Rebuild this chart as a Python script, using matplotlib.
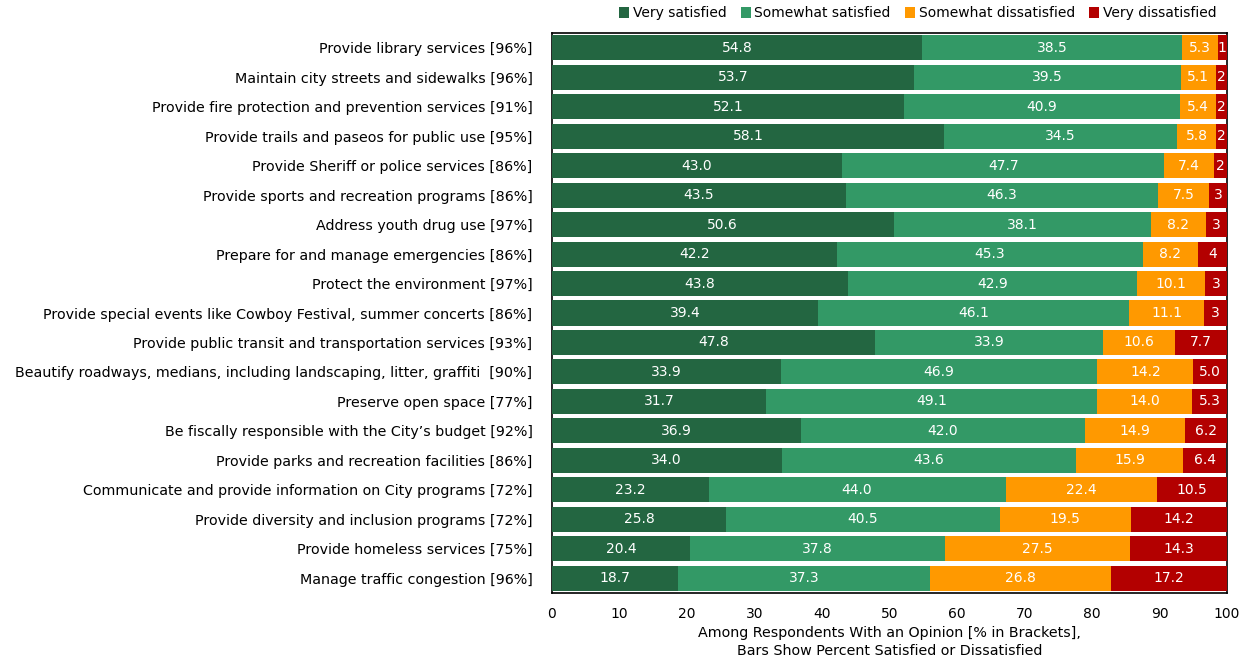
import numpy as np
import matplotlib
matplotlib.use("Agg")
import matplotlib.pyplot as plt

categories = [
    "Provide library services [96%]",
    "Maintain city streets and sidewalks [96%]",
    "Provide fire protection and prevention services [91%]",
    "Provide trails and paseos for public use [95%]",
    "Provide Sheriff or police services [86%]",
    "Provide sports and recreation programs [86%]",
    "Address youth drug use [97%]",
    "Prepare for and manage emergencies [86%]",
    "Protect the environment [97%]",
    "Provide special events like Cowboy Festival, summer concerts [86%]",
    "Provide public transit and transportation services [93%]",
    "Beautify roadways, medians, including landscaping, litter, graffiti  [90%]",
    "Preserve open space [77%]",
    "Be fiscally responsible with the City\u2019s budget [92%]",
    "Provide parks and recreation facilities [86%]",
    "Communicate and provide information on City programs [72%]",
    "Provide diversity and inclusion programs [72%]",
    "Provide homeless services [75%]",
    "Manage traffic congestion [96%]",
]

very_sat = [54.8, 53.7, 52.1, 58.1, 43.0, 43.5, 50.6, 42.2, 43.8, 39.4,
            47.8, 33.9, 31.7, 36.9, 34.0, 23.2, 25.8, 20.4, 18.7]
somewhat_sat = [38.5, 39.5, 40.9, 34.5, 47.7, 46.3, 38.1, 45.3, 42.9, 46.1,
                33.9, 46.9, 49.1, 42.0, 43.6, 44.0, 40.5, 37.8, 37.3]
somewhat_dis = [5.3, 5.1, 5.4, 5.8, 7.4, 7.5, 8.2, 8.2, 10.1, 11.1,
                10.6, 14.2, 14.0, 14.9, 15.9, 22.4, 19.5, 27.5, 26.8]
very_dis = [1.4, 1.7, 1.6, 1.6, 1.9, 2.7, 3.1, 4.3, 3.2, 3.4,
            7.7, 5.0, 5.3, 6.2, 6.4, 10.5, 14.2, 14.3, 17.2]

series_names = ["Very satisfied", "Somewhat satisfied",
                "Somewhat dissatisfied", "Very dissatisfied"]
colors = ["#236641", "#339966", "#FF9900", "#B30000"]
xticks = [0, 10, 20, 30, 40, 50, 60, 70, 80, 90, 100]

plt.rcParams["font.family"] = ["DejaVu Sans"]

fig = plt.figure(figsize=(12.45, 6.64), dpi=100)
ax = fig.add_axes([552 / 1245, 1 - 593 / 664, 675 / 1245, 560 / 664])

y = np.arange(len(categories))
left = np.zeros(len(categories))
handles = []
for name, vals, col in zip(series_names,
                           [very_sat, somewhat_sat, somewhat_dis, very_dis],
                           colors):
    vals = np.array(vals)
    # bars sit above the frame so the spines only show in the gaps
    bars = ax.barh(y, vals, left=left, height=0.85, color=col, label=name,
                   edgecolor="none", zorder=3)
    handles.append(bars)
    for yi, l, v in zip(y, left, vals):
        txt = f"{v:.0f}" if v < 5 else f"{v:.1f}"
        ax.text(l + v / 2, yi, txt, ha="center", va="center",
                color="white", fontsize=10, zorder=4)
    left = left + vals

ax.set_xlim(0, 100)
ax.set_ylim(len(categories) - 0.5, -0.5)
ax.set_yticks(y)
ax.set_yticklabels(categories, fontsize=10.3)
ax.set_xticks(xticks)
ax.set_xticklabels([str(t) for t in xticks], fontsize=10)
ax.tick_params(axis="y", length=0, pad=14)
ax.tick_params(axis="x", length=0, pad=10)
for s in ax.spines.values():
    s.set_color("black")
    s.set_linewidth(1.2)

ax.set_xlabel("Among Respondents With an Opinion [% in Brackets],\n"
              "Bars Show Percent Satisfied or Dissatisfied",
              fontsize=10.3, labelpad=4, linespacing=1.3)

fig.legend(handles=handles, labels=series_names, loc="upper right",
           bbox_to_anchor=(1226 / 1245, 1.005), ncol=4, frameon=False,
           fontsize=10, handlelength=0.75, handleheight=0.8,
           handletextpad=0.25, columnspacing=1.0, borderaxespad=0.3)

fig.savefig("out.png", dpi=100)
